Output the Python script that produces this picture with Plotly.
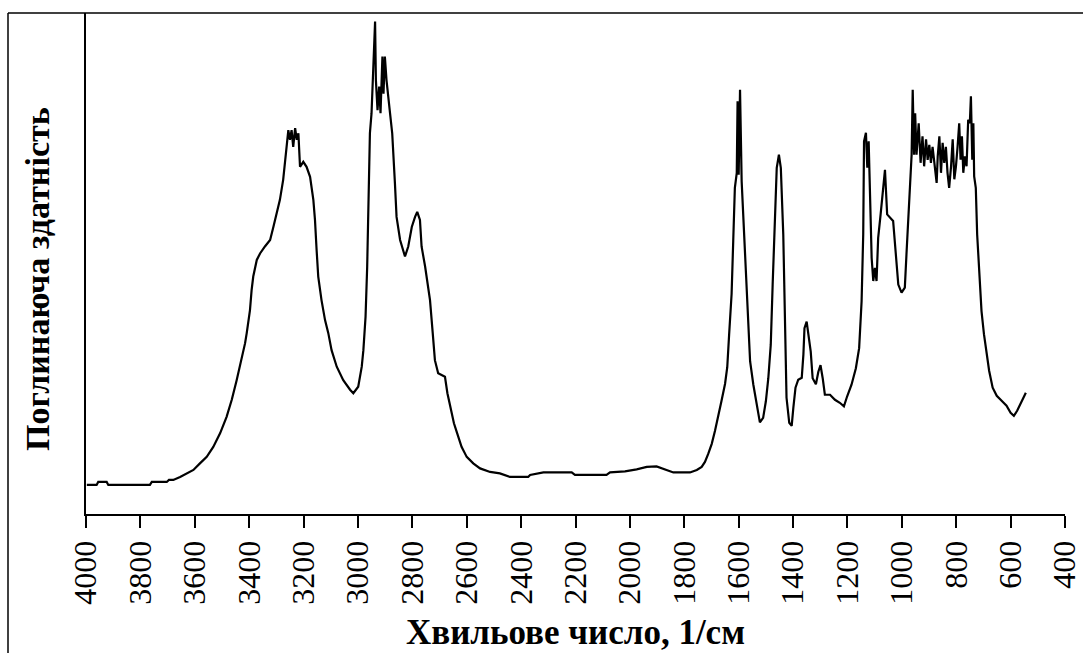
import plotly.graph_objects as go

wavenumber = [3997, 3961, 3955, 3924, 3918, 3765, 3758, 3703, 3695, 3679, 3654, 3630, 3605, 3581, 3556, 3532, 3507, 3483, 3464, 3446, 3428, 3415, 3409, 3397, 3391, 3385, 3372, 3360, 3342, 3323, 3311, 3299, 3287, 3275, 3268, 3262, 3256, 3250, 3244, 3238, 3231, 3225, 3219, 3213, 3201, 3189, 3176, 3164, 3158, 3152, 3146, 3134, 3121, 3109, 3097, 3078, 3054, 3029, 3017, 2999, 2986, 2980, 2972, 2966, 2962, 2956, 2950, 2944, 2937, 2934, 2928, 2922, 2917, 2910, 2906, 2901, 2895, 2882, 2874, 2864, 2858, 2845, 2827, 2815, 2802, 2790, 2782, 2772, 2766, 2753, 2745, 2735, 2725, 2717, 2705, 2680, 2671, 2659, 2647, 2635, 2619, 2600, 2576, 2551, 2514, 2478, 2441, 2374, 2367, 2318, 2214, 2202, 2086, 2073, 2018, 1975, 1938, 1902, 1865, 1840, 1779, 1754, 1736, 1724, 1712, 1699, 1687, 1675, 1663, 1650, 1642, 1635, 1626, 1620, 1614, 1607, 1604, 1600, 1595, 1589, 1583, 1573, 1565, 1558, 1546, 1534, 1522, 1510, 1500, 1491, 1482, 1475, 1467, 1460, 1452, 1445, 1436, 1430, 1424, 1414, 1405, 1399, 1391, 1381, 1368, 1362, 1358, 1350, 1344, 1335, 1328, 1316, 1307, 1299, 1291, 1283, 1264, 1246, 1228, 1213, 1201, 1185, 1169, 1157, 1148, 1142, 1139, 1132, 1127, 1122, 1117, 1111, 1105, 1099, 1093, 1087, 1078, 1071, 1062, 1054, 1044, 1032, 1022, 1013, 1001, 989, 983, 973, 964, 960, 955, 951, 946, 938, 931, 924, 918, 911, 905, 899, 893, 887, 880, 872, 868, 862, 856, 850, 844, 838, 832, 826, 819, 813, 807, 801, 795, 789, 784, 779, 774, 768, 762, 756, 750, 746, 741, 737, 734, 728, 723, 715, 707, 698, 688, 679, 666, 651, 633, 615, 600, 588, 576, 566, 553, 544]

absorbance = [5.8, 5.8, 6.4, 6.4, 5.8, 5.8, 6.4, 6.4, 6.8, 6.8, 7.4, 8.1, 8.8, 10.1, 11.4, 13.4, 16.1, 19.4, 22.8, 26.7, 30.7, 34.1, 36.1, 40.7, 44.7, 47.4, 50.7, 52.0, 53.4, 54.7, 57.3, 60.0, 62.7, 66.7, 70.7, 73.3, 76.6, 74.7, 76.6, 73.3, 77.0, 74.7, 76.0, 69.3, 70.3, 69.3, 67.3, 62.7, 58.7, 52.7, 47.4, 42.7, 38.7, 36.1, 32.7, 29.4, 26.7, 24.8, 24.1, 25.4, 29.4, 32.7, 39.4, 49.4, 62.7, 76.0, 80.0, 89.3, 98.3, 86.6, 80.6, 85.3, 80.0, 91.3, 83.9, 91.3, 86.6, 80.0, 76.0, 66.0, 59.3, 54.7, 51.4, 53.4, 57.3, 59.3, 60.3, 58.7, 53.4, 49.4, 46.0, 42.7, 36.1, 30.7, 28.1, 27.4, 24.1, 20.8, 18.1, 16.1, 13.4, 11.4, 10.1, 9.1, 8.4, 8.1, 7.4, 7.4, 7.8, 8.3, 8.3, 7.8, 7.8, 8.3, 8.5, 8.9, 9.4, 9.5, 8.8, 8.3, 8.3, 8.8, 9.4, 10.4, 12.0, 14.0, 16.6, 19.3, 22.6, 26.0, 29.3, 35.9, 43.9, 54.5, 65.1, 68.1, 82.4, 67.7, 84.7, 66.4, 59.1, 49.1, 39.8, 30.5, 25.8, 21.8, 18.3, 19.2, 22.5, 27.1, 33.8, 45.8, 59.1, 69.1, 71.7, 69.1, 55.8, 35.9, 23.2, 18.2, 17.6, 21.2, 25.2, 26.8, 27.2, 31.8, 37.1, 38.4, 35.7, 32.4, 27.1, 25.9, 28.4, 29.7, 27.1, 23.8, 23.8, 22.8, 22.2, 21.5, 23.5, 25.8, 29.1, 33.1, 42.4, 55.8, 74.4, 76.1, 69.1, 74.4, 63.8, 51.1, 46.5, 49.1, 46.5, 55.1, 59.8, 64.4, 68.7, 59.8, 59.1, 58.5, 51.8, 45.8, 44.2, 45.2, 51.8, 62.4, 71.7, 84.7, 71.7, 80.0, 71.7, 78.0, 70.1, 75.4, 69.4, 74.8, 70.7, 73.7, 70.1, 73.3, 69.4, 66.1, 71.4, 75.4, 68.1, 74.1, 70.1, 73.3, 68.1, 65.1, 69.4, 74.8, 66.8, 69.4, 73.3, 78.0, 70.7, 75.4, 68.1, 71.4, 69.4, 78.7, 78.0, 83.4, 70.7, 78.0, 67.4, 65.1, 55.8, 47.9, 40.5, 35.9, 31.9, 28.6, 25.2, 23.6, 22.6, 21.6, 20.2, 19.6, 20.6, 21.8, 23.2, 24.2]

tick_values = list(range(4000, 399, -200))
tick_labels = [str(v) for v in tick_values]

x_title = "Хвильове число, 1/см"
y_title = "Поглинаюча здатність"

W, H = 1083, 653
L, R, T, B = 86, 18, 13, 139
pw = W - L - R
ph = H - T - B

def px_x(p):
    return (p - L) / pw

def px_y(p):
    return (H - B - p) / ph

fig = go.Figure()
fig.add_trace(go.Scatter(
    x=wavenumber, y=absorbance, mode="lines",
    line=dict(color="black", width=2.2),
    showlegend=False, hoverinfo="skip",
))

serif = "Liberation Serif"

fig.update_layout(
    width=W, height=H,
    margin=dict(l=L, r=R, t=T, b=B, pad=0, autoexpand=False),
    paper_bgcolor="white", plot_bgcolor="white",
    font=dict(family=serif, color="black"),
    xaxis=dict(
        range=[4000, 400], tickmode="array", tickvals=tick_values, ticktext=tick_labels,
        tickangle=-90, ticks="outside", ticklen=12, tickwidth=2, tickcolor="black",
        showline=True, linecolor="black", linewidth=2, showgrid=False, zeroline=False,
        automargin=False,
        tickfont=dict(family=serif, size=32, color="black"),
    ),
    yaxis=dict(
        range=[0, 100], showticklabels=False, ticks="", showline=True,
        linecolor="black", linewidth=2, showgrid=False, zeroline=False,
        automargin=False,
    ),
    shapes=[
        dict(type="line", xref="paper", yref="paper", x0=px_x(8), x1=px_x(1090),
             y0=px_y(13), y1=px_y(13), line=dict(color="black", width=1.5)),
        dict(type="line", xref="paper", yref="paper", x0=px_x(8), x1=px_x(8),
             y0=px_y(13), y1=px_y(660), line=dict(color="black", width=1.5)),
    ],
    annotations=[
        dict(text=f"<b>{x_title}</b>", xref="paper", yref="paper",
             x=px_x(575), y=px_y(632), xanchor="center", yanchor="middle",
             showarrow=False, font=dict(family=serif, size=35, color="black")),
        dict(text=f"<b>{y_title}</b>", xref="paper", yref="paper",
             x=px_x(37), y=px_y(279), xanchor="center", yanchor="middle",
             textangle=-90, showarrow=False, font=dict(family=serif, size=34, color="black")),
    ],
)

fig.write_html("out.html")
